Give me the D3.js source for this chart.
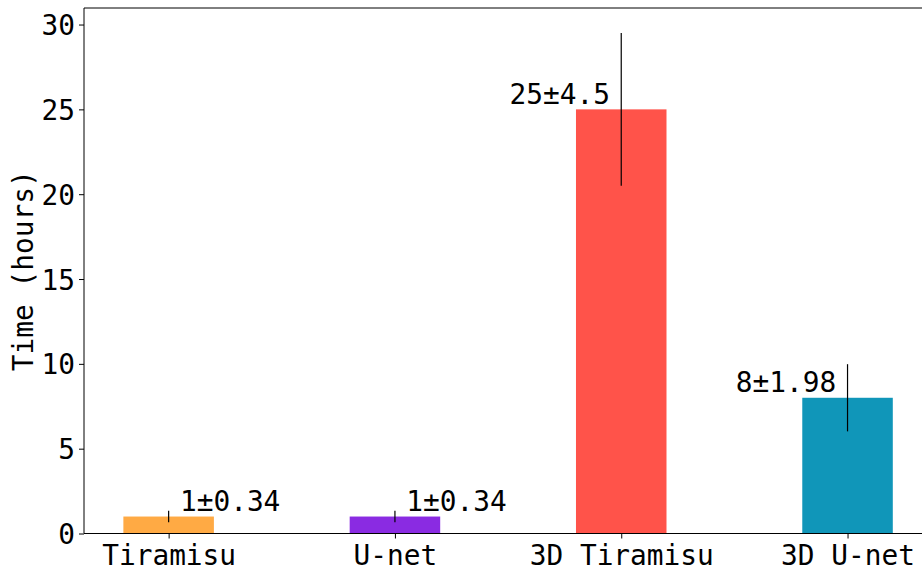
<!DOCTYPE html>
<html>
<head>
<meta charset="utf-8">
<script src="https://cdn.jsdelivr.net/npm/d3@7"></script>
<style>
  body { margin: 0; background: #fff; }
  text { font-family: "DejaVu Sans Mono", monospace; }
</style>
</head>
<body>
<div id="chart"></div>
<script>
// data
const models = ["Tiramisu", "U-net", "3D Tiramisu", "3D U-net"];
const hours = [1, 1, 25, 8];
const errors = [0.34, 0.34, 4.5, 1.98];
const labels = ["1±0.34", "1±0.34", "25±4.5", "8±1.98"];
const colors = ["#ffaa44", "#8a2be2", "#ff534a", "#1096b9"];
const yTicks = [0, 5, 10, 15, 20, 25, 30];

const width = 922,
      height = 569,
      leftPad = 84,
      topPad = 8,
      baseY = 533.5,
      barWidth = 0.4,
      fontSize = 27.8;

const svg = d3.select("#chart").append("svg")
    .attr("width", width)
    .attr("height", height);

// scales (matplotlib-like margins)
const x = d3.scaleLinear()
    .domain([-0.374, 3.37])
    .range([leftPad, leftPad + 226.3 * 3.744]);

const y = d3.scaleLinear()
    .domain([0, 30.975])
    .range([baseY, topPad]);

const data = models.map((m, i) => ({
    name: m, i: i, value: hours[i], err: errors[i], label: labels[i], color: colors[i]
}));

// bars
svg.selectAll(".bar")
    .data(data)
    .enter()
    .append("rect")
        .attr("class", "bar")
        .attr("x", d => x(d.i - barWidth / 2))
        .attr("width", d => x(d.i + barWidth / 2) - x(d.i - barWidth / 2))
        .attr("y", d => y(d.value))
        .attr("height", d => y(0) - y(d.value))
        .attr("fill", d => d.color);

// error bars
svg.selectAll(".err")
    .data(data)
    .enter()
    .append("line")
        .attr("class", "err")
        .attr("x1", d => x(d.i))
        .attr("x2", d => x(d.i))
        .attr("y1", d => y(d.value - d.err))
        .attr("y2", d => y(d.value + d.err))
        .attr("stroke", "#000")
        .attr("stroke-width", 1.2);

// value labels
svg.selectAll(".vlabel")
    .data(data)
    .enter()
    .append("text")
        .attr("class", "vlabel")
        .attr("x", d => d.value < 5 ? x(d.i + 0.05) : x(d.i - 0.05))
        .attr("y", d => y(d.value + 0.33))
        .attr("text-anchor", d => d.value < 5 ? "start" : "end")
        .attr("font-size", fontSize)
        .attr("fill", "#000")
        .text(d => d.label);

// axes
const xAxis = svg.append("g")
    .attr("transform", `translate(0, ${baseY})`)
    .call(d3.axisBottom(x).tickValues(d3.range(models.length))
        .tickFormat(i => models[i]).tickSize(5).tickPadding(5));

const yAxis = svg.append("g")
    .attr("transform", `translate(${leftPad}, 0)`)
    .call(d3.axisLeft(y).tickValues(yTicks).tickSize(5).tickPadding(4));

[xAxis, yAxis].forEach(g => {
    g.select(".domain").remove();
    g.selectAll(".tick line").attr("stroke", "#000").attr("stroke-width", 1);
    g.selectAll(".tick text")
        .attr("font-family", "DejaVu Sans Mono")
        .attr("font-size", fontSize)
        .attr("fill", "#000");
});
yAxis.selectAll(".tick text").attr("dy", "0.36em");
xAxis.selectAll(".tick text").attr("dy", "0.76em");

// spines
svg.append("line")
    .attr("x1", leftPad).attr("x2", leftPad)
    .attr("y1", topPad).attr("y2", baseY)
    .attr("stroke", "#000").attr("stroke-width", 1);
svg.append("line")
    .attr("x1", leftPad).attr("x2", width)
    .attr("y1", topPad).attr("y2", topPad)
    .attr("stroke", "#000").attr("stroke-width", 1);
svg.append("line")
    .attr("x1", leftPad).attr("x2", width)
    .attr("y1", baseY).attr("y2", baseY)
    .attr("stroke", "#000").attr("stroke-width", 1);

// y label
svg.append("text")
    .attr("transform", `translate(33, ${(topPad + baseY) / 2}) rotate(-90)`)
    .attr("text-anchor", "middle")
    .attr("font-size", fontSize)
    .attr("fill", "#000")
    .text("Time (hours)");
</script>
</body>
</html>
